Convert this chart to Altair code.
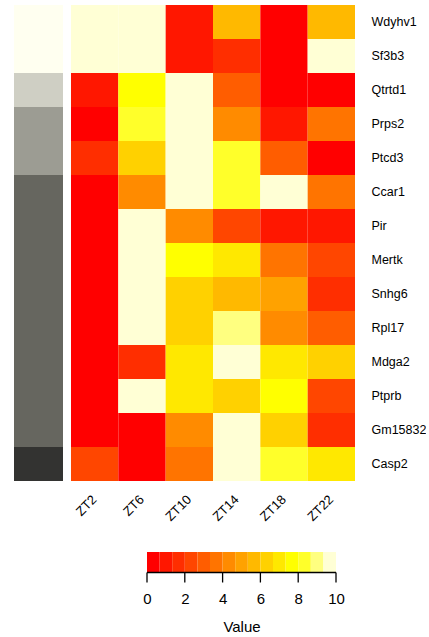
import altair as alt
import pandas as pd

genes = ["Wdyhv1", "Sf3b3", "Qtrtd1", "Prps2", "Ptcd3", "Ccar1", "Pir",
         "Mertk", "Snhg6", "Rpl17", "Mdga2", "Ptprb", "Gm15832", "Casp2"]
times = ["ZT2", "ZT6", "ZT10", "ZT14", "ZT18", "ZT22"]

# values per time point (one per gene, same order as genes)
zt2 = [9.7, 9.7, 1.0, 0.3, 1.6, 0.3, 0.3, 0.3, 0.3, 0.3, 0.3, 0.3, 0.3, 2.3]
zt6 = [9.7, 9.7, 7.6, 8.3, 6.3, 4.3, 9.7, 9.7, 9.7, 9.7, 1.7, 9.7, 0.3, 0.3]
zt10 = [1.0, 1.0, 9.7, 9.7, 9.7, 9.7, 4.3, 7.6, 6.3, 6.3, 7.0, 7.0, 4.3, 3.7]
zt14 = [5.7, 1.7, 3.0, 4.3, 8.3, 8.3, 2.3, 7.0, 5.7, 9.0, 9.7, 6.3, 9.7, 9.7]
zt18 = [0.3, 0.3, 0.3, 1.0, 3.0, 9.7, 1.0, 3.7, 5.0, 4.3, 7.0, 7.6, 6.3, 8.3]
zt22 = [5.7, 9.7, 0.3, 3.7, 0.3, 3.7, 1.0, 2.3, 1.7, 3.0, 6.3, 2.3, 1.7, 7.0]

# side annotation groups (one per gene)
groups = [1, 1, 2, 3, 3, 4, 4, 4, 4, 4, 4, 4, 4, 5]
group_ids = [1, 2, 3, 4, 5]
group_colors = ["#FFFFF0", "#CFCFC4", "#9C9C93", "#66665F", "#333331"]

heat_colors = ["#FF0000", "#FF1700", "#FF2E00", "#FF4600", "#FF5D00",
               "#FF7400", "#FF8B00", "#FFA200", "#FFB900", "#FFD100",
               "#FFE800", "#FFFF00", "#FFFF2A", "#FFFF80", "#FFFFD5"]
legend_ticks = [0, 2, 4, 6, 8, 10]
vmin, vmax = 0, 10

cols = [zt2, zt6, zt10, zt14, zt18, zt22]
rows = []
for t, col in zip(times, cols):
    for g, v in zip(genes, col):
        rows.append({"gene": g, "time": t, "value": v})
df = pd.DataFrame(rows)

ann = pd.DataFrame({"gene": genes, "group": groups})

nb = len(heat_colors)
leg = pd.DataFrame({
    "start": [vmin + i * (vmax - vmin) / nb for i in range(nb)],
    "end": [vmin + (i + 1) * (vmax - vmin) / nb for i in range(nb)],
})
leg["mid"] = (leg["start"] + leg["end"]) / 2
ticks_df = pd.DataFrame({"tick": legend_ticks})
dom_df = pd.DataFrame({"lo": [vmin], "hi": [vmax]})

color_scale = alt.Scale(type="quantize", domain=[vmin, vmax], range=heat_colors, nice=False, zero=False)
leg_x_scale = alt.Scale(domain=[vmin, vmax], range=[133, 322], nice=False, zero=False)

annot = alt.Chart(ann).mark_rect().encode(
    y=alt.Y("gene:N", sort=genes, axis=None),
    color=alt.Color("group:O", scale=alt.Scale(domain=group_ids, range=group_colors), legend=None),
).properties(width=49, height=476)

heat = alt.Chart(df).mark_rect().encode(
    x=alt.X("time:N", sort=times, title=None,
            axis=alt.Axis(labelAngle=-45, labelAlign="right", labelBaseline="middle",
                          ticks=False, domain=False, labelFontSize=13,
                          labelPadding=16, labelColor="#000000")),
    y=alt.Y("gene:N", sort=genes, title=None,
            axis=alt.Axis(orient="right", ticks=False, domain=False, labelFontSize=12.5,
                          labelPadding=16, labelColor="#000000")),
    color=alt.Color("value:Q", scale=color_scale, legend=None),
).properties(width=284, height=476)

leg_rect = alt.Chart(leg).mark_rect().encode(
    x=alt.X("start:Q", scale=leg_x_scale,
            axis=alt.Axis(values=legend_ticks, format="d", title="Value",
                          ticks=False, domain=False,
                          labelFontSize=15, titleFontSize=15, titleFontWeight="normal",
                          labelColor="#000000", titleColor="#000000", grid=False,
                          labelFlush=False, labelPadding=8, titlePadding=13)),
    x2="end:Q",
    y=alt.value(0),
    y2=alt.value(20),
    color=alt.Color("mid:Q", scale=color_scale, legend=None),
)

leg_ticks = alt.Chart(ticks_df).mark_tick(
    color="#000000", orient="vertical", thickness=1.3, size=10, opacity=1
).encode(
    x=alt.X("tick:Q", scale=leg_x_scale),
    y=alt.value(25.5),
)

leg_domain = alt.Chart(dom_df).mark_rule(color="#000000", strokeWidth=1.3, opacity=1).encode(
    x=alt.X("lo:Q", scale=leg_x_scale),
    x2="hi:Q",
    y=alt.value(20.5),
)

legend_bar = alt.layer(leg_rect, leg_domain, leg_ticks).properties(width=340, height=31)

top = alt.hconcat(annot, heat, spacing=8)
chart = alt.vconcat(top, legend_bar, spacing=28).properties(
    padding={"left": 14, "top": 5, "right": 0, "bottom": 0}
).configure(font="Liberation Sans").configure_view(strokeWidth=0)

chart.save("out.html", embed_options={"renderer": "svg", "actions": False})
